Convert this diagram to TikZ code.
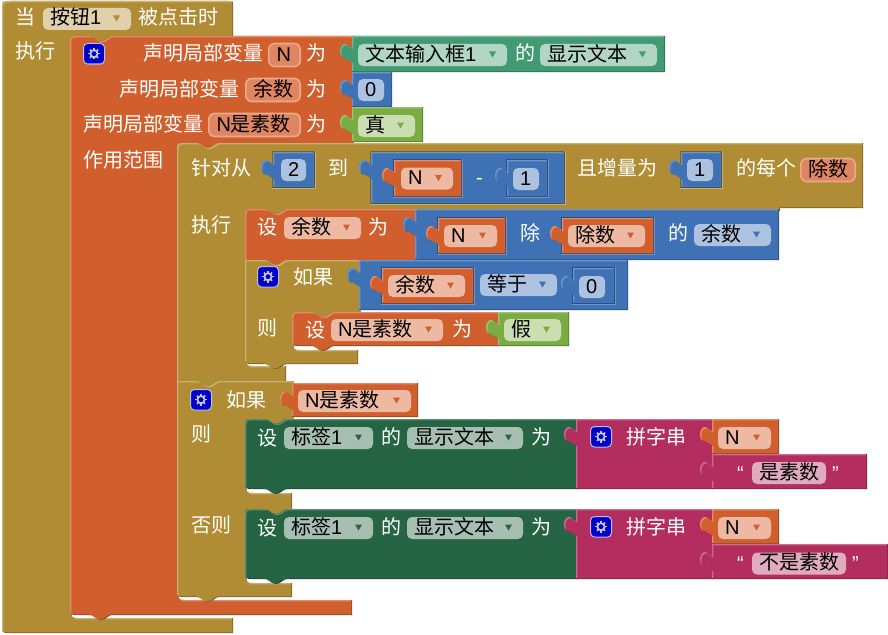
\documentclass[tikz,border=0pt]{standalone}
\usepackage{fontspec}
\setmainfont{Noto Sans CJK SC}
\newfontfamily\lat{Liberation Sans}
\definecolor{goldM}{HTML}{B08D35}\definecolor{goldH}{HTML}{C8B070}\definecolor{goldD}{HTML}{7B6325}\definecolor{goldP}{HTML}{DFD1AB}
\definecolor{orgM}{HTML}{D15F2E}\definecolor{orgH}{HTML}{E28B66}\definecolor{orgD}{HTML}{92431F}\definecolor{orgP}{HTML}{EDB9A2}
\definecolor{bluM}{HTML}{3F71B5}\definecolor{bluH}{HTML}{6F94CA}\definecolor{bluD}{HTML}{2C4F7F}\definecolor{bluP}{HTML}{ADC1E0}
\definecolor{tealM}{HTML}{429A73}\definecolor{tealH}{HTML}{71B498}\definecolor{tealD}{HTML}{2E6C51}\definecolor{tealP}{HTML}{B2D6C6}
\definecolor{grnM}{HTML}{266544}\definecolor{grnH}{HTML}{5F8C75}\definecolor{grnD}{HTML}{1A4730}\definecolor{grnP}{HTML}{A6BFB2}
\definecolor{pnkM}{HTML}{B32D5E}\definecolor{pnkH}{HTML}{CA6C8E}\definecolor{pnkD}{HTML}{7D1F42}\definecolor{pnkP}{HTML}{E0ABBE}
\definecolor{limM}{HTML}{7AAD41}\definecolor{limH}{HTML}{9DC375}\definecolor{limD}{HTML}{55792E}\definecolor{limP}{HTML}{CADEB2}
\definecolor{varF}{HTML}{E08562}\definecolor{varE}{HTML}{ECA98E}
\definecolor{gearB}{HTML}{0000C8}\definecolor{gearE}{HTML}{B8BCE8}\definecolor{gearW}{HTML}{C4C8F0}
\newcounter{tn}
\tikzset{lab/.style={anchor=base west,inner sep=0pt,outer sep=0pt,font=\fontsize{20}{24}\selectfont},
  wlab/.style={lab,text=white},klab/.style={lab,text=black}}
% label: x, y-centre, text
\newcommand\wt[3]{\stepcounter{tn}\node[wlab] (w\arabic{tn}) at (#1,#2+7) {#3};}
\newcommand\kt[3]{\stepcounter{tn}\node[klab] (k\arabic{tn}) at (#1,#2+6) {#3};}
% notches
\newcommand\topN[2]{-- (#1+20,#2) .. controls (#1+24,#2) and (#1+26,#2+5) .. (#1+31,#2+5) .. controls (#1+36,#2+5) and (#1+38,#2) .. (#1+42,#2)}
\newcommand\botN[2]{-- (#1+42,#2) .. controls (#1+38,#2) and (#1+36,#2+5) .. (#1+31,#2+5) .. controls (#1+26,#2+5) and (#1+24,#2) .. (#1+20,#2)}
% left tab, travelling upward along x from y+27
\newcommand\tabL[2]{-- (#1,#2+26) .. controls (#1-3,#2+26) and (#1-4,#2+23) .. (#1-6,#2+22.5) .. controls (#1-10,#2+23) and (#1-12,#2+20) .. (#1-12,#2+15) .. controls (#1-12,#2+10) and (#1-9,#2+7.5) .. (#1-6,#2+8) .. controls (#1-4,#2+8.5) and (#1-3,#2+12) .. (#1,#2+12)}
% embossed shape
\newcommand\bev[2]{%
 \begin{scope}\clip #2;
  \fill[#1D] (-50,-50) rectangle (950,700);
  \begin{scope}[shift={(-1,-1)}]\fill[#1H] #2;\clip #2;
   \begin{scope}[shift={(2.4,2.4)}]\fill[#1M] #2;\end{scope}
  \end{scope}
 \end{scope}}
% value block with left tab
\newcommand\vblk[5]{\bev{#1}{(#2,#3) -- (#4,#3) -- (#4,#5) -- (#2,#5) \tabL{#2}{#3} -- cycle}}
% value block whose right edge runs under the next block
\newcommand\sockt[5]{\fill[#1H] (#2,#3) rectangle (#4,#5);\fill[#1D] (#2,#3) rectangle (#4-1.5,#5-1.5);}
% dropdown field
\newcommand\fld[5]{\fill[#1P,rounded corners=5] (#2,#4-11) rectangle (#3,#4+11);
 \fill[#1M] (#3-18,#4-3.5) -- (#3-11,#4-3.5) -- (#3-14.5,#4+2.5) -- cycle;
 \kt{#2+7}{#4}{#5}}
% plain field
\newcommand\pfld[5]{\fill[#1P,rounded corners=5] (#2,#4-11) rectangle (#3,#4+11);\kt{#2+7}{#4}{#5}}
% editable variable name
\newcommand\vpill[4]{\draw[fill=varF,draw=varE,line width=1.6,rounded corners=6] (#1+.8,#3-11.5) rectangle (#2-.8,#3+11.5);\kt{#1+8.5}{#3}{#4}}
% mutator gear
\newcommand\gearic[2]{\draw[fill=gearB,draw=gearE,line width=1,rounded corners=4] (#1+.5,#2+.5) rectangle (#1+21.5,#2+21);
 \draw[gearW,line width=1.8] (#1+11,#2+10.7) circle (3.6);
 \foreach \an in {0,45,...,315}{\draw[gearW,line width=1.5] ([shift={(#1+11,#2+10.7)}]\an:4) -- ([shift={(#1+11,#2+10.7)}]\an:5.8);}}
\begin{document}
\begin{tikzpicture}[x=1pt,y=-1pt]
\useasboundingbox (0,0) rectangle (888,634);
\fill[white] (0,0) rectangle (888,634);
% ---- event block
\bev{gold}{(2,9) .. controls (2,1) .. (10,1) -- (229,1) .. controls (233,1) .. (233,5) -- (233,37) \botN{70}{37} -- (78,37) .. controls (71.5,37) .. (71.5,43) -- (71.5,610) .. controls (71.5,618) .. (78,618) -- (233,618) -- (233,633) -- (10,633) .. controls (2,633) .. (2,625) -- cycle}
% ---- local variables block
\bev{org}{(70,44) .. controls (70,36) .. (78,36) \topN{70}{36} -- (353.5,36) -- (353.5,145) \botN{177}{145} -- (185,145) .. controls (178.5,145) .. (178.5,151) -- (178.5,592) .. controls (178.5,600) .. (185,600) -- (352,600) -- (352,615) \botN{70}{615} -- (78,615) .. controls (70,615) .. (70,607) -- cycle}
% ---- for block
\bev{gold}{(177,151) .. controls (177,143) .. (185,143) \topN{177}{143} -- (863,143) -- (863,208) -- (780,208) -- (780,211) \botN{245}{211} -- (253,211) .. controls (246.5,211) .. (246.5,216) -- (246.5,358) .. controls (246.5,366) .. (253,366) -- (286,366) -- (286,383) \botN{177}{383} -- (177,383) -- cycle}
% ---- second if block
\bev{gold}{(177,381) \topN{177}{381} -- (293.5,381) -- (293.5,420) \botN{245}{420} -- (253,420) .. controls (246.5,420) .. (246.5,426) -- (246.5,485) .. controls (246.5,493) .. (253,493) -- (292,493) -- (292,510) \botN{245}{510} -- (253,510) .. controls (246.5,510) .. (246.5,516) -- (246.5,575) .. controls (246.5,583) .. (253,583) -- (292,583) -- (292,597) \botN{177}{597} -- (185,597) .. controls (177,597) .. (177,589) -- cycle}
% ---- set remainder
\bev{org}{(245,217) .. controls (245,209) .. (253,209) \topN{245}{209} -- (416.5,209) -- (416.5,262) \botN{245}{262} -- (245,262) -- cycle}
% ---- first if block
\bev{gold}{(245,260) \topN{245}{260} -- (360.5,260) -- (360.5,314) \botN{292}{314} -- (300,314) .. controls (293.5,314) .. (293.5,318) -- (293.5,342) .. controls (293.5,350) .. (300,350) -- (358,350) -- (358,364) \botN{245}{364} -- (253,364) .. controls (245,364) .. (245,356) -- cycle}
% ---- set is-prime
\bev{org}{(292,320) .. controls (292,312) .. (300,312) \topN{292}{312} -- (499.5,312) -- (499.5,346) \botN{292}{346} -- (300,346) .. controls (292,346) .. (292,338) -- cycle}
% ---- set label blocks
\bev{grn}{(245,427) .. controls (245,419) .. (253,419) \topN{245}{419} -- (577.5,419) -- (577.5,489) \botN{245}{489} -- (253,489) .. controls (245,489) .. (245,481) -- cycle}
\bev{grn}{(245,517) .. controls (245,509) .. (253,509) \topN{245}{509} -- (577.5,509) -- (577.5,579) \botN{245}{579} -- (253,579) .. controls (245,579) .. (245,571) -- cycle}
% ---- header texts
\wt{16}{18}{当}\fld{gold}{43}{131}{19}{按钮{\lat 1}}\wt{138}{18}{被点击时}
\wt{16}{52}{执行}
\gearic{83}{43}
\wt{143}{53}{声明局部变量}\vpill{268}{301}{55}{{\lat N}}\wt{306}{53}{为}
\wt{119}{89}{声明局部变量}\vpill{245}{301}{90}{余数}\wt{306}{89}{为}
\wt{83}{124}{声明局部变量}\vpill{208}{301}{125}{{\lat N}是素数}\wt{306}{124}{为}
\wt{83}{160}{作用范围}
% ---- values of the variables
\vblk{teal}{352}{36}{665}{72}\fld{teal}{358}{507}{55}{文本输入框{\lat 1}}\wt{515}{53}{的}\fld{teal}{540}{657}{55}{显示文本}
\vblk{blu}{352}{72}{392}{107}\pfld{blu}{358}{384}{90}{{\lat 0}}
\vblk{lim}{352}{107}{423}{142}\fld{lim}{358}{415}{126}{真}
% ---- for header
\wt{191}{168}{针对从}
\sockt{gold}{272}{151}{316}{189}\vblk{blu}{273}{152}{314.5}{187.5}\pfld{blu}{281}{306}{170}{{\lat 2}}
\wt{328}{168}{到}
\sockt{gold}{370}{151}{566}{205}\vblk{blu}{371}{152}{564.5}{203.5}
\sockt{blu}{393}{159}{463}{198}\vblk{org}{394}{160}{461.5}{196.5}\fld{org}{401}{453}{178.5}{{\lat N}}
\wt{476}{177}{{\lat -}}
\sockt{blu}{506}{159}{549}{198}\vblk{blu}{507}{160}{547.5}{196.5}\pfld{blu}{513}{539}{179}{{\lat 1}}
\wt{577}{168}{且增量为}
\sockt{gold}{680}{151}{723}{189}\vblk{blu}{681}{152}{721.5}{187.5}\pfld{blu}{687}{713}{170}{{\lat 1}}
\wt{736}{168}{的每个}\vpill{800}{856}{170}{除数}
\wt{191}{225}{执行}
% ---- set remainder row
\wt{257}{227}{设}\fld{org}{284}{361}{228}{余数}\wt{368}{227}{为}
\vblk{blu}{415}{209}{779}{260}
\sockt{blu}{437}{217}{507}{255}\vblk{org}{438}{218}{505.5}{253.5}\fld{org}{444}{497}{236}{{\lat N}}
\wt{520}{233}{除}
\sockt{blu}{561}{217}{655}{255}\vblk{org}{562}{218}{653.5}{253.5}\fld{org}{568}{645}{236}{除数}
\wt{668}{233}{的}\fld{blu}{694}{771}{235}{余数}
% ---- if row
\gearic{257}{266}\wt{293}{277}{如果}
\vblk{blu}{359}{260}{628}{310}
\sockt{blu}{381}{267}{475}{305}\vblk{org}{382}{268}{473.5}{303.5}\fld{org}{388}{465}{286}{余数}
\fld{blu}{480}{557}{285}{等于}
\sockt{blu}{572}{267}{616}{305}\vblk{blu}{573}{268}{614.5}{303.5}\pfld{blu}{579}{605}{287}{{\lat 0}}
\wt{257}{328}{则}
\wt{305}{330}{设}\fld{org}{331}{443}{330}{{\lat N}是素数}\wt{452}{329}{为}
\vblk{lim}{498}{312}{569}{346}\fld{lim}{504}{561}{330}{假}
% ---- second if
\gearic{190}{389}\wt{226}{400}{如果}
\vblk{org}{292}{383}{418}{417}\fld{org}{298}{411}{401}{{\lat N}是素数}
\wt{191}{434}{则}\wt{191}{525}{否则}
% ---- first label row
\wt{257}{438}{设}\fld{grn}{284}{373}{438}{标签{\lat 1}}\wt{381}{437}{的}\fld{grn}{407}{523}{438}{显示文本}\wt{531}{437}{为}
\vblk{pnk}{576}{419}{713.5}{489}\gearic{590}{426}\wt{626}{437}{拼字串}
\vblk{org}{712}{419}{779}{454}\fld{org}{718}{771}{438}{{\lat N}}
\vblk{pnk}{712}{454}{867}{489}
\wt{737}{473}{{\lat “}}\pfld{pnk}{752}{826}{473}{是素数}\wt{832}{473}{{\lat ”}}
% ---- second label row
\wt{257}{528}{设}\fld{grn}{284}{373}{528}{标签{\lat 1}}\wt{381}{527}{的}\fld{grn}{407}{523}{528}{显示文本}\wt{531}{527}{为}
\vblk{pnk}{576}{509}{713.5}{579}\gearic{590}{516}\wt{626}{527}{拼字串}
\vblk{org}{712}{509}{779}{544}\fld{org}{718}{771}{528}{{\lat N}}
\vblk{pnk}{712}{544}{888}{579}
\wt{737}{563}{{\lat “}}\pfld{pnk}{752}{846}{563.5}{不是素数}\wt{852}{563}{{\lat ”}}
\end{tikzpicture}
\end{document}
